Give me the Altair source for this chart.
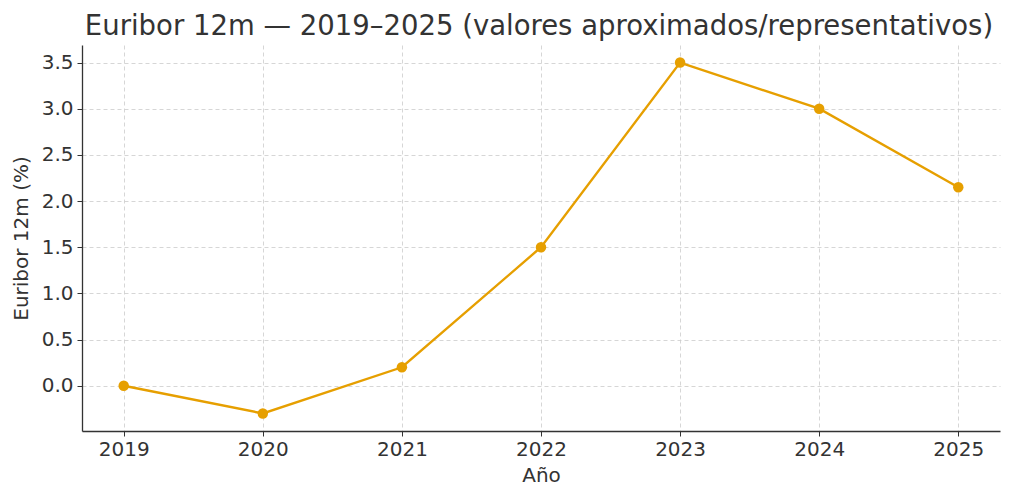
import altair as alt
import pandas as pd

years = [2019, 2020, 2021, 2022, 2023, 2024, 2025]
euribor = [0.0, -0.3, 0.2, 1.5, 3.5, 3.0, 2.15]

df = pd.DataFrame({"Año": years, "Euribor": euribor})

FONT = "DejaVu Sans"
COLOR = "#E69F00"
TXT = "#333333"

base = alt.Chart(df).encode(
    x=alt.X(
        "Año:Q",
        scale=alt.Scale(domain=[2018.7, 2025.3], nice=False, zero=False),
        axis=alt.Axis(
            values=years, format="d", title="Año",
            grid=True, gridDash=[4, 3], gridColor="#cccccc", gridWidth=0.8,
            domainColor=TXT, domainWidth=1.3, tickColor=TXT, tickSize=5,
            labelFontSize=20, titleFontSize=20, labelColor=TXT, titleColor=TXT,
            labelFont=FONT, titleFont=FONT, titleFontWeight="normal",
            labelPadding=3, titlePadding=6,
        ),
    ),
    y=alt.Y(
        "Euribor:Q",
        scale=alt.Scale(domain=[-0.49, 3.69], nice=False, zero=False),
        axis=alt.Axis(
            values=[0, 0.5, 1.0, 1.5, 2.0, 2.5, 3.0, 3.5], format=".1f",
            title="Euribor 12m (%)",
            grid=True, gridDash=[4, 3], gridColor="#cccccc", gridWidth=0.8,
            domainColor=TXT, domainWidth=1.3, tickColor=TXT, tickSize=5,
            labelFontSize=20, titleFontSize=20, labelColor=TXT, titleColor=TXT,
            labelFont=FONT, titleFont=FONT, titleFontWeight="normal",
            labelPadding=4, titlePadding=10,
        ),
    ),
)

line = base.mark_line(color=COLOR, strokeWidth=2.4)
pts = base.mark_circle(color=COLOR, size=110, opacity=1)

chart = (line + pts).properties(
    width=918,
    height=386,
    background="white",
    title=alt.TitleParams(
        "Euribor 12m — 2019–2025 (valores aproximados/representativos)",
        fontSize=27.5, font=FONT, color=TXT, fontWeight="normal",
        anchor="middle", offset=5, dx=-2,
    ),
    autosize=alt.AutoSizeParams(type="none"),
    padding={"left": 74, "top": 37, "right": 16, "bottom": 61},
).configure_view(strokeWidth=0, stroke="transparent")

chart.save("out.html", embed_options={"renderer": "svg", "actions": False})
